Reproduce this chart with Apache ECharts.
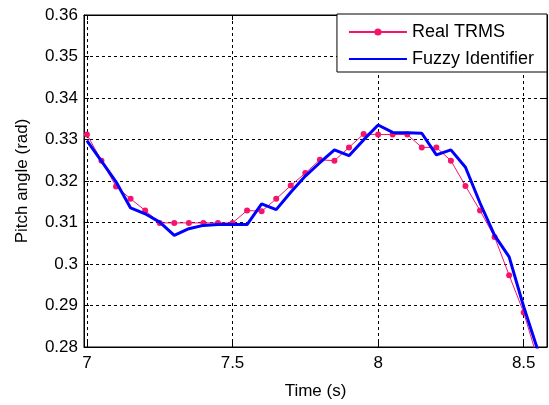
<!DOCTYPE html>
<html>
<head>
<meta charset="utf-8">
<script src="https://cdn.jsdelivr.net/npm/echarts@6/dist/echarts.min.js"></script>
<style>html,body{margin:0;padding:0;background:#fff}#c{width:549px;height:405px}</style>
</head>
<body>
<div id="c"></div>
<script>
const times = [7.00,7.05,7.10,7.15,7.20,7.25,7.30,7.35,7.40,7.45,7.50,7.55,7.60,7.65,7.70,7.75,7.80,7.85,7.90,7.95,8.00,8.05,8.10,8.15,8.20,8.25,8.30,8.35,8.40,8.45,8.50,8.55];
const realTRMS = [0.3312,0.3249,0.3187,0.3157,0.3129,0.3099,0.3099,0.3099,0.3099,0.3099,0.3099,0.3129,0.3127,0.3157,0.3189,0.3219,0.3251,0.3249,0.3281,0.3313,0.3312,0.3312,0.3312,0.3281,0.3281,0.3249,0.3188,0.3129,0.3065,0.2973,0.2883,0.2766];
const fuzzyIdentifier = [0.3297,0.3248,0.3198,0.3135,0.3121,0.3101,0.3069,0.3085,0.3093,0.3095,0.3095,0.3095,0.3145,0.3131,0.3173,0.3212,0.3244,0.3275,0.3261,0.3299,0.3335,0.3317,0.3316,0.3315,0.3263,0.3275,0.3233,0.3147,0.3069,0.3017,0.2897,0.2789];
const xTicks = [7, 7.5, 8, 8.5];
const seriesNames = ['Real TRMS', 'Fuzzy Identifier'];

const FONT = 'Liberation Sans';
const FS = 17;
const pair = (xs, ys) => xs.map((x, i) => [x, ys[i]]);
const dash = {color: '#000', width: 1, type: [3, 3]};

const chart = echarts.init(document.getElementById('c'), null, {renderer: 'canvas'});
chart.setOption({
  animation: false,
  backgroundColor: '#fff',
  textStyle: {fontFamily: FONT},
  grid: {left: 84, top: 15, right: 2, bottom: 57, show: true, borderColor: '#000', borderWidth: 1, containLabel: false},
  xAxis: [{
    type: 'value', min: 6.99, max: 8.58,
    name: 'Time (s)', nameLocation: 'middle', nameGap: 36,
    nameTextStyle: {fontFamily: FONT, fontSize: FS, color: '#000'},
    axisLine: {show: true, onZero: false, lineStyle: {color: '#000', width: 1}},
    axisTick: {show: true, inside: true, length: 5, customValues: xTicks, lineStyle: {color: '#000'}},
    axisLabel: {customValues: xTicks, fontFamily: FONT, fontSize: FS, color: '#000', margin: 8, formatter: v => String(v)},
    splitLine: {show: true, lineStyle: dash}
  }, {
    type: 'value', min: 6.99, max: 8.58, position: 'top',
    axisLine: {show: true, onZero: false, lineStyle: {color: '#000'}},
    axisTick: {show: true, inside: true, length: 5, customValues: xTicks, lineStyle: {color: '#000'}},
    axisLabel: {show: false}, splitLine: {show: false}
  }],
  yAxis: [{
    type: 'value', min: 0.28, max: 0.36, interval: 0.01,
    name: 'Pitch angle (rad)', nameLocation: 'middle', nameGap: 53,
    nameTextStyle: {fontFamily: FONT, fontSize: FS, color: '#000'},
    axisLine: {show: true, onZero: false, lineStyle: {color: '#000', width: 1}},
    axisTick: {show: true, inside: true, length: 5, lineStyle: {color: '#000'}},
    axisLabel: {fontFamily: FONT, fontSize: FS, color: '#000', margin: 6, formatter: v => String(+v.toFixed(2))},
    splitLine: {show: true, lineStyle: dash}
  }, {
    type: 'value', min: 0.28, max: 0.36, interval: 0.01, position: 'right',
    axisLine: {show: true, onZero: false, lineStyle: {color: '#000'}},
    axisTick: {show: true, inside: true, length: 5, lineStyle: {color: '#000'}},
    axisLabel: {show: false}, splitLine: {show: false}
  }],
  legend: {
    orient: 'vertical', right: 2, top: 14,
    backgroundColor: '#fff', borderColor: '#000', borderWidth: 1, borderRadius: 0,
    padding: [9, 13, 4, 11], itemGap: 9, itemWidth: 58, itemHeight: 9,
    textStyle: {fontFamily: FONT, fontSize: 18, color: '#000'},
    data: [
      {name: seriesNames[0]},
      {name: seriesNames[1], itemStyle: {opacity: 0, color: 'rgba(0,0,0,0)'}}
    ]
  },
  series: [{
    name: seriesNames[0], type: 'line', data: pair(times, realTRMS),
    symbol: 'circle', symbolSize: 6, showSymbol: true,
    lineStyle: {color: '#f5136c', width: 1}, itemStyle: {color: '#f5136c'},
    z: 2
  }, {
    name: seriesNames[1], type: 'line', data: pair(times, fuzzyIdentifier),
    symbol: 'none', lineStyle: {color: '#0000ff', width: 3}, itemStyle: {color: '#0000ff'},
    z: 3
  }]
});
</script>
</body>
</html>
